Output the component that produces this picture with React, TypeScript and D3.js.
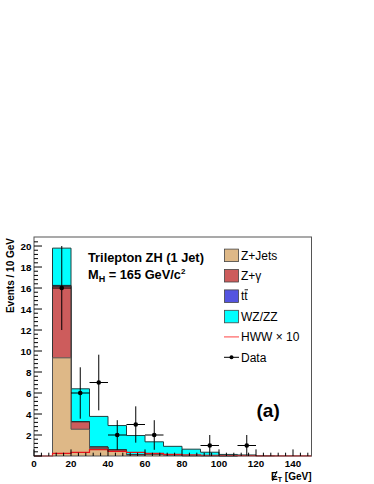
import React from 'react'
import * as d3 from 'd3'

// bin low edges, 10 GeV wide
const binEdges = [0, 10, 20, 30, 40, 50, 60, 70, 80, 90, 100, 110, 120, 130, 140, 150]

const zJets = [0, 9.35, 2.55, 0.7, 0.48, 0.08, 0.15, 0.06, 0.02, 0.02, 0.01, 0, 0, 0, 0]
const zGamma = [0, 6.8, 0.7, 0.15, 0.1, 0.05, 0.05, 0.04, 0.02, 0.01, 0, 0, 0, 0, 0]
const ttbar = [0, 0.1, 0.03, 0.02, 0.02, 0.01, 0.01, 0.01, 0, 0, 0, 0, 0, 0, 0]
const wzzz = [0, 3.55, 3.12, 2.9, 2.3, 1.81, 1.14, 0.81, 0.61, 0.33, 0.14, 0.1, 0.02, 0, 0]
const hww = [0, 0.25, 0.35, 0.6, 0.45, 0.35, 0.25, 0.15, 0.1, 0.07, 0.05, 0.03, 0.02, 0.01, 0.01]

const dataX = [15, 25, 35, 45, 55, 65, 95, 115]
const dataY = [16, 6, 7, 2, 3, 2, 1, 1]
const dataErr = [4, 2.45, 2.65, 1.41, 1.73, 1.41, 1, 1]

const xTicks = [0, 20, 40, 60, 80, 100, 120, 140]
const yTicks = [2, 4, 6, 8, 10, 12, 14, 16, 18, 20]

const legendItems = [
  { label: 'Z+Jets', color: '#deb887', kind: 'box' },
  { label: 'Z+\u03b3', color: '#cd5c5c', kind: 'box' },
  { label: 'tt', color: '#5454e0', kind: 'box' },
  { label: 'WZ/ZZ', color: '#00ffff', kind: 'box' },
  { label: 'HWW \u00d7 10', color: '#ff6060', kind: 'line' },
  { label: 'Data', color: '#000', kind: 'data' },
]

const font = '"Liberation Sans", Arial, Helvetica, sans-serif'

export default function App() {
  const left = 34, right = 311.5, top = 237, bottom = 456
  const x = d3.scaleLinear().domain([0, 150]).range([left, right])
  const y = d3.scaleLinear().domain([0, 20.86]).range([bottom, top])

  // cumulative stacks
  const cum1 = zJets
  const cum2 = cum1.map((v, i) => v + zGamma[i])
  const cum3 = cum2.map((v, i) => v + ttbar[i])
  const cum4 = cum3.map((v, i) => v + wzzz[i])

  const steps = (vals: number[]) => {
    const pts: [number, number][] = []
    vals.forEach((v, i) => {
      pts.push([binEdges[i], v])
      pts.push([binEdges[i + 1], v])
    })
    return pts
  }

  const areaG = d3.area<[number, number]>().x(d => x(d[0])).y0(y(0)).y1(d => y(d[1]))
  const lineG = d3.line<[number, number]>().x(d => x(d[0])).y(d => y(d[1]))

  const histOutline = (vals: number[]) => {
    const first = vals.findIndex(v => v > 0)
    let last = vals.length - 1
    while (last > 0 && vals[last] <= 0) last--
    const pts: [number, number][] = [[binEdges[first], 0]]
    for (let i = first; i <= last; i++) {
      pts.push([binEdges[i], vals[i]])
      pts.push([binEdges[i + 1], vals[i]])
    }
    pts.push([binEdges[last + 1], 0])
    return pts
  }

  const stacks = [
    { vals: cum4, color: '#00ffff', stroke: '#1f3f3f' },
    { vals: cum3, color: '#5454e0', stroke: '#222' },
    { vals: cum2, color: '#cd5c5c', stroke: '#333' },
    { vals: cum1, color: '#deb887', stroke: '#555' },
  ]

  const yMinor = d3.range(0, 20.8, 0.4)
  const xMinor = d3.range(0, 150.1, 4)

  return (
    <svg width={374} height={484} style={{ position: 'absolute', left: 0, top: 0, background: '#fff' }} fontFamily={font}>
      <rect x={0} y={0} width={374} height={484} fill="#fff" />
      {stacks.map((s, k) => (
        <g key={k}>
          <path d={areaG(steps(s.vals)) || ''} fill={s.color} />
          <path d={lineG(histOutline(s.vals)) || ''} fill="none" stroke={s.stroke} strokeWidth={1} />
        </g>
      ))}
      <path d={lineG(steps(hww)) || ''} fill="none" stroke="#e8141a" strokeWidth={1.2} />

      {/* data */}
      {dataX.map((dx, i) => (
        <g key={i} stroke="#000" strokeWidth={1}>
          <line x1={x(dx)} x2={x(dx)} y1={y(dataY[i] - dataErr[i])} y2={y(dataY[i] + dataErr[i])} />
          <line x1={x(dx - 5)} x2={x(dx + 5)} y1={y(dataY[i])} y2={y(dataY[i])} />
          <circle cx={x(dx)} cy={y(dataY[i])} r={2.3} fill="#000" stroke="none" />
        </g>
      ))}

      {/* frame */}
      <rect x={left} y={top} width={right - left} height={bottom - top} fill="none" stroke="#555" strokeWidth={1} />

      {/* y ticks */}
      {yMinor.map((v, i) => {
        const major = Math.abs(v / 2 - Math.round(v / 2)) < 1e-6
        return <line key={i} x1={left} x2={left + (major ? 8 : 4)} y1={y(v)} y2={y(v)} stroke="#000" strokeWidth={1} />
      })}
      {yTicks.map(t => (
        <text key={t} x={31.5} y={y(t) + 3.5} textAnchor="end" fontSize={9.8} fontWeight="bold">{t}</text>
      ))}
      {/* x ticks */}
      {xMinor.map((v, i) => {
        const major = v % 20 === 0
        return <line key={i} x1={x(v)} x2={x(v)} y1={bottom} y2={bottom - (major ? 6.6 : 3.3)} stroke="#000" strokeWidth={1} />
      })}
      {xTicks.map(t => (
        <text key={t} x={x(t)} y={466.5} textAnchor="middle" fontSize={9.8} fontWeight="bold">{t}</text>
      ))}

      {/* axis titles */}
      <text transform="translate(13.5,238) rotate(-90)" textAnchor="end" fontSize={10} fontWeight="bold">Events / 10 GeV</text>
      <text x={right} y={480} textAnchor="end" fontSize={10} fontWeight="bold">
        E<tspan fontSize={7} dy={2}>T</tspan><tspan dy={-2}> [GeV]</tspan>
      </text>
      <line x1={right - 39} x2={right - 34.5} y1={481} y2={471} stroke="#000" strokeWidth={1} />

      {/* labels */}
      <text x={88} y={261.7} fontSize={12.8} fontWeight="bold">Trilepton ZH (1 Jet)</text>
      <text x={88} y={279.3} fontSize={12.8} fontWeight="bold">
        M<tspan fontSize={9} dy={3}>H</tspan><tspan dy={-3}> = 165 GeV/c</tspan><tspan fontSize={8} dy={-5}>2</tspan>
      </text>
      <text x={256.5} y={417} fontSize={19} fontWeight="bold">(a)</text>

      {/* legend */}
      {legendItems.map((it, i) => {
        const cy = 255.3 + i * 20.4
        return (
          <g key={it.label}>
            {it.kind === 'box' && (
              <rect x={224.5} y={cy - 6.2} width={14} height={12.5} fill={it.color} stroke="#444" strokeWidth={0.8} />
            )}
            {it.kind === 'line' && (
              <line x1={224} x2={239} y1={cy} y2={cy} stroke={it.color} strokeWidth={1.2} />
            )}
            {it.kind === 'data' && (
              <g>
                <line x1={224} x2={239} y1={cy} y2={cy} stroke="#000" strokeWidth={1} />
                <circle cx={231.5} cy={cy} r={2} fill="#000" />
              </g>
            )}
            <text x={241} y={cy + 4.3} fontSize={12}>{it.label}</text>
            {it.label === 'tt' && (
              <line x1={244.6} x2={248} y1={cy - 6.3} y2={cy - 6.3} stroke="#000" strokeWidth={0.9} />
            )}
          </g>
        )
      })}
    </svg>
  )
}
